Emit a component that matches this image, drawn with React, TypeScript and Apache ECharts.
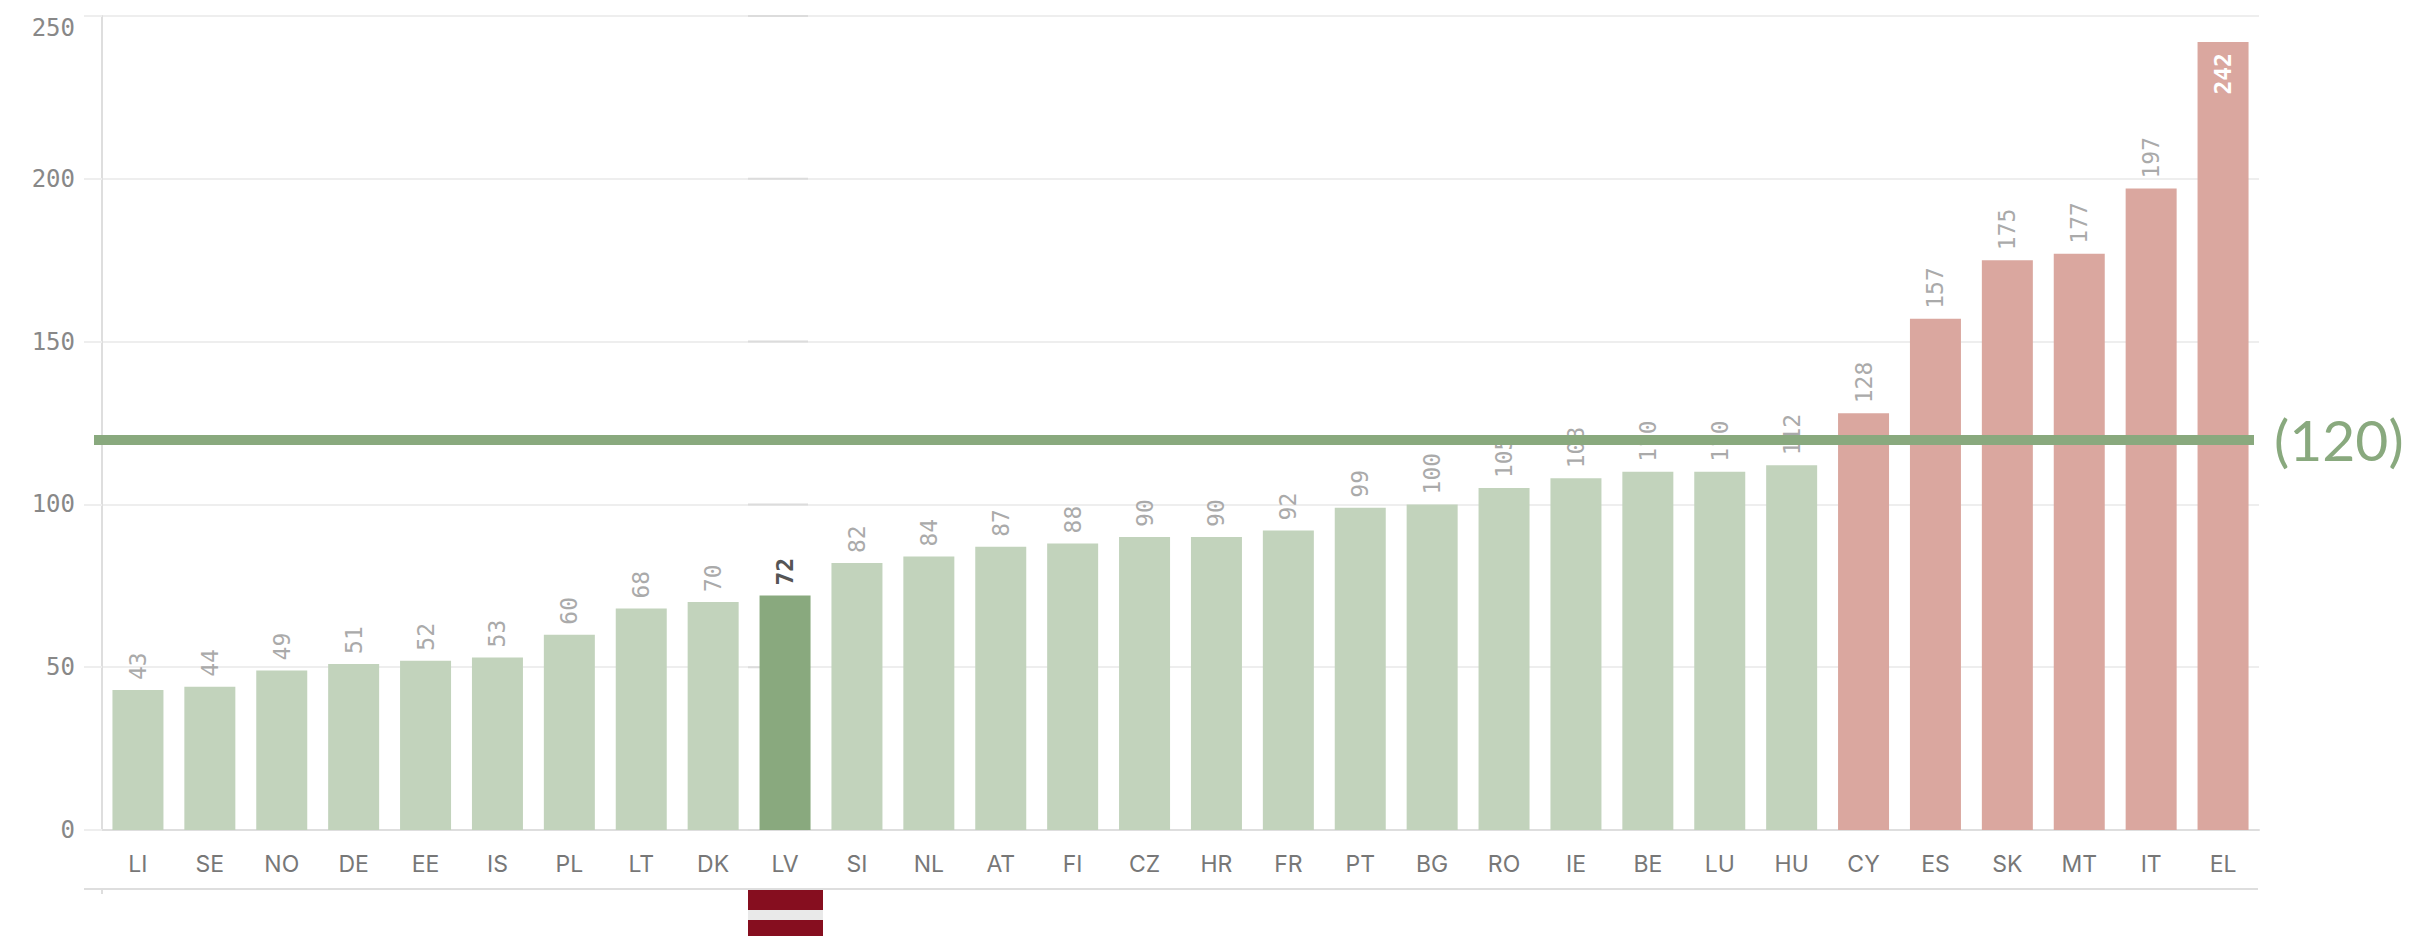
import React, { useEffect, useRef } from "react";
import * as echarts from "echarts";

const categories = ["LI","SE","NO","DE","EE","IS","PL","LT","DK","LV","SI","NL","AT","FI","CZ","HR","FR","PT","BG","RO","IE","BE","LU","HU","CY","ES","SK","MT","IT","EL"];
const values = [43,44,49,51,52,53,60,68,70,72,82,84,87,88,90,90,92,99,100,105,108,110,110,112,128,157,175,177,197,242];
const threshold = 120;
const highlighted = "LV";
const insideLabel = "EL";
const yTicks = [0, 50, 100, 150, 200, 250];

const GREEN_LIGHT = "#c2d3bc";
const GREEN = "#89a97e";
const RED = "#daa79f";
const GRID_C = "#eeeeee";
const AXIS_C = "#dedede";
const FLAG_RED = "#860e1f";
const MONO = "'DejaVu Sans Mono', monospace";

export default function App() {
  const ref = useRef<HTMLDivElement>(null);
  useEffect(() => {
    document.body.style.margin = "0";
    const chart = echarts.init(ref.current!, undefined, { renderer: "svg" });
    const data = values.map((v, i) => {
      const c = categories[i];
      const item: any = {
        value: v,
        itemStyle: { color: c === highlighted ? GREEN : v > threshold ? RED : GREEN_LIGHT },
      };
      if (c === highlighted) item.label = { color: "#555", fontWeight: "bold" };
      if (c === insideLabel)
        item.label = { position: "insideTop", align: "right", distance: 11, color: "#fff", fontWeight: "bold" };
      return item;
    });
    chart.setOption({
      animation: false,
      backgroundColor: "#fff",
      grid: { left: 102, right: 177, top: 16, bottom: 106, containLabel: false },
      xAxis: {
        type: "category",
        data: categories,
        axisLine: { lineStyle: { color: AXIS_C, width: 2 } },
        axisTick: { show: false },
        axisLabel: { color: "#777", fontFamily: "Inter", fontSize: 23, margin: 22, interval: 0 },
      },
      yAxis: {
        type: "value",
        min: yTicks[0],
        max: yTicks[yTicks.length - 1],
        interval: 50,
        axisLine: { show: true, lineStyle: { color: AXIS_C, width: 2 } },
        axisTick: { show: true, length: 18, lineStyle: { color: GRID_C, width: 2 } },
        splitLine: { show: true, lineStyle: { color: GRID_C, width: 2 } },
        axisLabel: { color: "#888", fontFamily: MONO, fontSize: 24, margin: 27, verticalAlignMaxLabel: "top" },
      },
      series: [
        {
          type: "bar",
          data,
          barWidth: 51,
          label: {
            show: true,
            position: "top",
            rotate: 90,
            align: "left",
            verticalAlign: "middle",
            distance: 10,
            color: "#aaa",
            fontFamily: MONO,
            fontSize: 23,
          },
          markLine: {
            silent: true,
            symbol: "none",
            z: 20,
            lineStyle: { color: GREEN, width: 10, type: "solid" },
            label: {
              show: true,
              position: "end",
              distance: 20,
              formatter: `(${threshold})`,
              color: GREEN,
              fontFamily: "Lato",
              fontSize: 57,
            },
            emphasis: { disabled: true },
            data: [[{ x: 94, yAxis: threshold }, { x: 2254, yAxis: threshold }]],
          },
        },
      ],
    });
    const ys = yTicks.map((t) => chart.convertToPixel({ yAxisIndex: 0 }, t) as number);
    chart.setOption({
      graphic: [
        ...ys.map((y) => ({
          type: "line",
          z: 1,
          shape: { x1: 748, y1: y, x2: 808, y2: y },
          style: { stroke: "#dcdcdc", lineWidth: 2 },
        })),
        { type: "line", shape: { x1: 84, y1: 889, x2: 2258, y2: 889 }, style: { stroke: AXIS_C, lineWidth: 2 } },
        { type: "line", shape: { x1: 102, y1: 889, x2: 102, y2: 894 }, style: { stroke: AXIS_C, lineWidth: 2 } },
        { type: "rect", shape: { x: 748, y: 890, width: 75, height: 20 }, style: { fill: FLAG_RED } },
        { type: "rect", shape: { x: 748, y: 910, width: 75, height: 10 }, style: { fill: "#e9e9e9" } },
        { type: "rect", shape: { x: 748, y: 920, width: 75, height: 16 }, style: { fill: FLAG_RED } },
      ],
    });
    return () => chart.dispose();
  }, []);
  return <div ref={ref} style={{ width: 2436, height: 936 }} />;
}
